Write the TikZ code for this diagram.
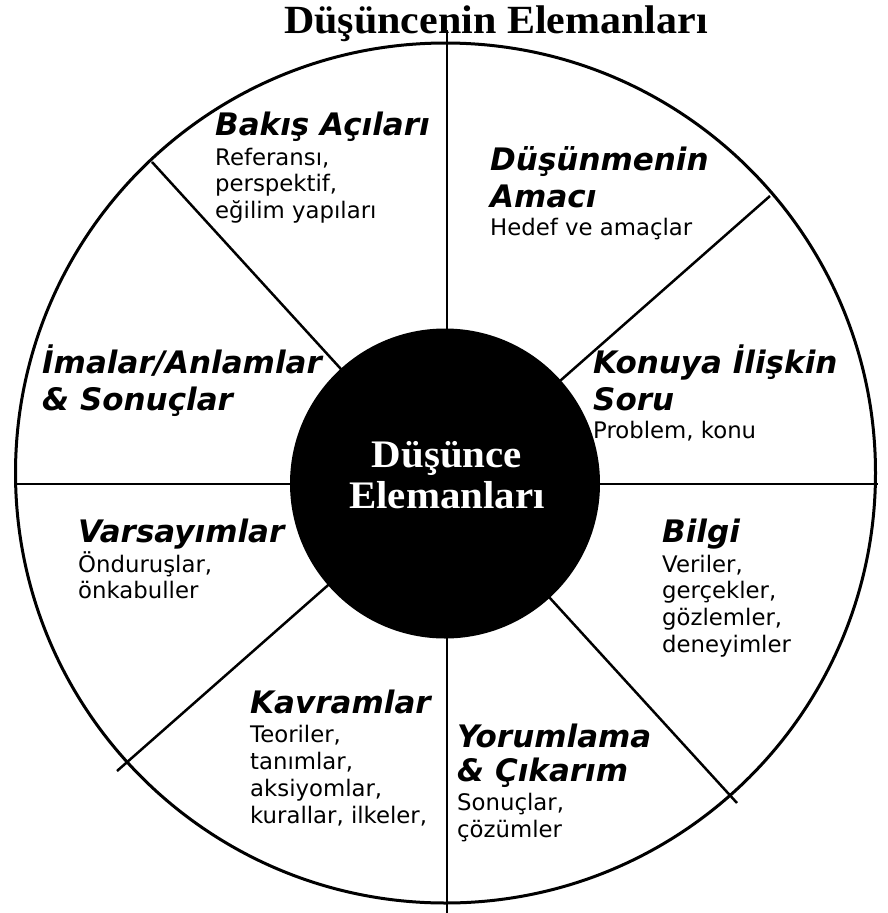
\documentclass[tikz,border=0pt]{standalone}
\usepackage{fontspec}
\usepackage{graphicx}
\newfontfamily\vfont{DejaVu Sans}
\newfontfamily\tfont{Liberation Serif}
\newcommand\stk[2]{\vtop{\baselineskip=#1\lineskiplimit=-100pt\lineskip=0pt\relax #2}}
\tikzset{
  hd/.style={anchor=base west, inner sep=0pt, font=\vfont\bfseries\itshape\fontsize{31}{36}\selectfont},
  bd/.style={anchor=base west, inner sep=0pt, font=\vfont\fontsize{22.8}{26.5}\selectfont, text=black},
  div/.style={line width=2.5pt, draw=black},
  ctr/.style={anchor=base, inner sep=0pt, text=white, font=\tfont\bfseries\fontsize{39}{41}\selectfont},
}
\begin{document}
\begin{tikzpicture}[x=1pt,y=-1pt]
\useasboundingbox (0,0) rectangle (888,913);
% divider end points
\coordinate (vt) at (447,30);
\coordinate (vb) at (447,913);
\coordinate (hl) at (16,484);
\coordinate (hr) at (878,484);
\coordinate (d1a) at (152,162);
\coordinate (d1b) at (737,803);
\coordinate (d2a) at (117,771);
\coordinate (d2b) at (770,196);
\coordinate (oc) at (445.5,473);
\draw[div] (vt) -- (vb);
\draw[div] (hl) -- (hr);
\draw[div] (d1a) -- (d1b);
\draw[div] (d2a) -- (d2b);
\draw[line width=3pt] (oc) circle[radius=430pt];
% core
\node[circle, fill=black, minimum size=310pt, inner sep=0pt] (core) at (445,483.5) {};
\node[ctr] (c1) at (447,467) {\scalebox{1.05}[1]{Düşünce}};
\node[ctr] (c2) at (447,508) {\scalebox{1.05}[1]{Elemanları}};
% title
\node[anchor=base, inner sep=0pt, font=\tfont\bfseries\fontsize{40}{44}\selectfont] (title) at (496,33) {\scalebox{1.05}[1]{Düşüncenin Elemanları}};
% sectors
\node[hd] (h1) at (215,135) {Bakış Açıları};
\node[bd] (b1) at (215,165) {\stk{26.5pt}{\hbox{Referansı,}\hbox{perspektif,}\hbox{eğilim yapıları}}};
\node[hd] (h2) at (490,170) {\stk{37pt}{\hbox{Düşünmenin}\hbox{Amacı}}};
\node[bd] (b2) at (490,235) {Hedef ve amaçlar};
\node[hd] (h3) at (593,373) {\stk{37pt}{\hbox{Konuya İlişkin}\hbox{Soru}}};
\node[bd] (b3) at (593,438) {Problem, konu};
\node[hd] (h4) at (662,542) {Bilgi};
\node[bd] (b4) at (662,572) {\stk{26.7pt}{\hbox{Veriler,}\hbox{gerçekler,}\hbox{gözlemler,}\hbox{deneyimler}}};
\node[hd] (h5) at (457,747) {\stk{34pt}{\hbox{Yorumlama}\hbox{\& Çıkarım}}};
\node[bd] (b5) at (457,810) {\stk{27pt}{\hbox{Sonuçlar,}\hbox{çözümler}}};
\node[hd] (h6) at (250,713) {Kavramlar};
\node[bd] (b6) at (250,742) {\stk{27pt}{\hbox{Teoriler,}\hbox{tanımlar,}\hbox{aksiyomlar,}\hbox{kurallar, ilkeler,}}};
\node[hd] (h7) at (78,542) {Varsayımlar};
\node[bd] (b7) at (78,572) {\stk{26.5pt}{\hbox{Önduruşlar,}\hbox{önkabuller}}};
\node[hd] (h8) at (42,373) {\stk{37pt}{\hbox{İmalar/Anlamlar}\hbox{\& Sonuçlar}}};
\end{tikzpicture}
\end{document}
